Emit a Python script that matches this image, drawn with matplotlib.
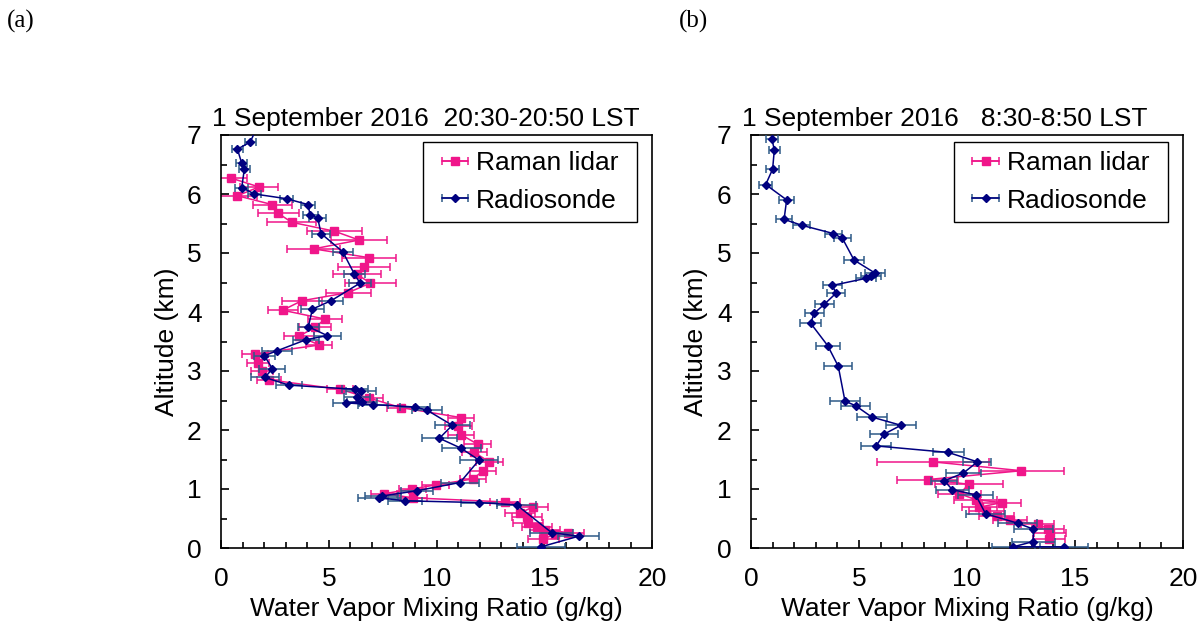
import matplotlib
matplotlib.use("Agg")
import matplotlib.pyplot as plt
from matplotlib.ticker import MultipleLocator
from matplotlib.patches import Rectangle
import numpy as np

plt.rcParams['font.family'] = ['Liberation Sans', 'DejaVu Sans']

# ---------------- Panel (a): 20:30-20:50 LST ----------------
a_sonde_alt = [7.15, 6.88, 6.76, 6.52, 6.42, 6.11, 6.00, 5.92, 5.82, 5.64, 5.60, 5.33, 5.02,
               4.64, 4.49, 4.19, 4.05, 3.75, 3.60, 3.53, 3.34, 3.26, 3.04, 2.89, 2.76,
               2.69, 2.66, 2.56, 2.48, 2.46, 2.43, 2.39, 2.34, 2.08, 1.86, 1.69, 1.49,
               1.11, 0.97, 0.88, 0.85, 0.80, 0.77, 0.73, 0.26, 0.20, 0.02]
a_sonde_wv = [1.70, 1.35, 0.76, 0.96, 1.08, 0.96, 1.55, 3.05, 4.04, 4.13, 4.48, 4.64, 5.65,
              6.19, 6.45, 5.10, 4.24, 4.05, 4.93, 3.94, 2.58, 2.01, 2.38, 2.04, 3.16,
              6.22, 6.50, 6.30, 6.53, 5.80, 7.04, 9.00, 9.54, 10.73, 10.13, 11.14, 11.97,
              11.09, 9.08, 7.45, 7.35, 8.54, 11.97, 13.72, 15.34, 16.59, 14.85]
a_sonde_err = [0.30, 0.25, 0.25, 0.25, 0.25, 0.30, 0.30, 0.30, 0.33, 0.35, 0.40, 0.43, 0.46,
               0.50, 0.50, 0.55, 0.55, 0.50, 0.62, 0.60, 0.70, 0.50, 0.60, 0.65, 0.60,
               0.60, 0.70, 0.60, 0.70, 0.60, 0.70, 0.70, 0.70, 0.80, 0.80, 0.90, 0.90,
               0.90, 0.75, 0.75, 1.00, 0.80, 0.85, 0.90, 1.00, 0.95, 1.10]

a_lidar_alt = [6.27, 6.12, 5.97, 5.82, 5.67, 5.52, 5.37, 5.22, 5.07, 4.92, 4.77, 4.64,
               4.49, 4.33, 4.19, 4.03, 3.88, 3.74, 3.59, 3.44, 3.29, 3.14, 3.00, 2.85,
               2.69, 2.54, 2.38, 2.21, 2.06, 1.92, 1.76, 1.62, 1.46, 1.31, 1.17, 1.07,
               1.00, 0.92, 0.85, 0.78, 0.70, 0.59, 0.53, 0.42, 0.36, 0.31, 0.26, 0.24, 0.15]
a_lidar_wv = [0.46, 1.76, 0.76, 2.38, 2.66, 3.28, 5.26, 6.40, 4.30, 6.88, 6.64, 6.30,
              6.93, 5.91, 3.74, 2.86, 4.83, 4.36, 3.62, 4.56, 1.58, 1.72, 1.89, 2.24,
              5.52, 6.88, 8.34, 11.14, 11.01, 11.14, 11.90, 11.76, 12.44, 12.17, 11.68, 9.96,
              8.88, 7.56, 8.92, 13.18, 14.49, 13.87, 14.19, 14.26, 14.65, 15.03, 16.12, 15.50, 14.96]
a_lidar_err = [0.73, 0.87, 0.93, 0.89, 0.94, 1.14, 1.29, 1.31, 1.24, 1.26, 1.22, 1.10,
               1.18, 1.03, 0.93, 0.70, 0.80, 0.73, 0.70, 0.60, 0.60, 0.50, 0.50, 0.55,
               0.60, 0.62, 0.62, 0.62, 0.62, 0.60, 0.62, 0.60, 0.62, 0.60, 0.60, 0.62,
               0.62, 0.62, 0.62, 0.70, 0.70, 0.70, 0.70, 0.70, 0.70, 0.70, 0.70, 0.70, 0.70]

# ---------------- Panel (b): 8:30-8:50 LST ----------------
b_sonde_alt = [6.94, 6.75, 6.42, 6.16, 5.90, 5.57, 5.47, 5.33, 5.25, 4.88, 4.66, 4.61, 4.57,
               4.45, 4.32, 4.13, 3.98, 3.81, 3.43, 3.08, 2.49, 2.41, 2.22, 2.08, 1.93, 1.73,
               1.62, 1.46, 1.27, 1.14, 0.99, 0.90, 0.58, 0.42, 0.32, 0.11, 0.02, 0.02]
b_sonde_wv = [0.96, 1.08, 1.00, 0.68, 1.65, 1.53, 2.35, 3.81, 4.23, 4.77, 5.74, 5.55, 5.32,
              3.76, 3.94, 3.39, 2.93, 2.76, 3.55, 4.04, 4.35, 4.85, 5.59, 6.94, 6.16, 5.79,
              9.13, 10.48, 9.83, 8.95, 9.32, 10.40, 10.86, 12.35, 13.07, 13.07, 12.14, 14.49]
b_sonde_err = [0.27, 0.27, 0.30, 0.30, 0.35, 0.35, 0.40, 0.40, 0.40, 0.45, 0.45, 0.45, 0.45,
               0.45, 0.40, 0.45, 0.45, 0.50, 0.56, 0.64, 0.70, 0.68, 0.70, 0.70, 0.65, 0.70,
               0.72, 0.65, 0.80, 0.60, 0.75, 0.80, 0.90, 0.90, 0.90, 1.00, 1.00, 1.10]

b_lidar_alt = [1.46, 1.31, 1.16, 1.08, 0.92, 0.82, 0.77, 0.69, 0.63, 0.54, 0.47, 0.40, 0.33, 0.25, 0.16]
b_lidar_wv = [8.41, 12.52, 8.18, 10.09, 9.65, 10.40, 11.60, 10.57, 10.90, 11.37, 11.99, 13.27, 13.76, 13.84, 13.80]
b_lidar_err = [2.60, 1.97, 1.40, 1.58, 1.00, 1.00, 0.90, 0.80, 0.80, 0.80, 0.80, 0.75, 0.75, 0.75, 0.75]

titles = ["1 September 2016  20:30-20:50 LST", "1 September 2016   8:30-8:50 LST"]
panel_labels = ["(a)", "(b)"]
x_label = "Water Vapor Mixing Ratio (g/kg)"
y_label = "Altitude (km)"
legend_labels = ["Raman lidar", "Radiosonde"]

PINK = '#F0168A'
NAVY = '#000080'
SONDE_ERR = '#2E5A88'
FS = 19

fig = plt.figure(figsize=(12.02, 6.25), dpi=100)
axes_pos = [[0.1839, 0.1232, 0.3586, 0.6608], [0.6248, 0.1232, 0.3594, 0.6608]]
data = [
    (a_lidar_wv, a_lidar_alt, a_lidar_err, a_sonde_wv, a_sonde_alt, a_sonde_err),
    (b_lidar_wv, b_lidar_alt, b_lidar_err, b_sonde_wv, b_sonde_alt, b_sonde_err),
]

for i, (lx, ly, le, sx, sy, se) in enumerate(data):
    ax = fig.add_axes(axes_pos[i])
    ax.errorbar(lx, ly, xerr=le, color=PINK, ecolor=PINK, marker='s', markersize=6,
                linewidth=1.1, elinewidth=1.1, capsize=3, capthick=1.1,
                label=legend_labels[0], zorder=2)
    ax.errorbar(sx, sy, xerr=se, color=NAVY, ecolor=SONDE_ERR, marker='D', markersize=4.5,
                linewidth=1.1, elinewidth=1.1, capsize=3, capthick=1.1,
                label=legend_labels[1], zorder=3)
    ax.set_xlim(0, 20)
    ax.set_ylim(0, 7)
    ax.xaxis.set_major_locator(MultipleLocator(5))
    ax.xaxis.set_minor_locator(MultipleLocator(1))
    ax.yaxis.set_major_locator(MultipleLocator(1))
    ax.yaxis.set_minor_locator(MultipleLocator(0.5))
    ax.tick_params(which='both', direction='in', labelsize=FS, width=1.2)
    ax.tick_params(which='major', length=6)
    ax.tick_params(which='minor', length=4)
    ax.tick_params(axis='x', which='major', pad=14)
    ax.tick_params(axis='y', which='major', pad=14)
    for s in ax.spines.values():
        s.set_linewidth(1.2)
    ax.set_xlabel(x_label, fontsize=FS, labelpad=4)
    ax.set_ylabel(y_label, fontsize=FS, labelpad=6)
    ax.text(-0.02, 1.01, titles[i], transform=ax.transAxes, fontsize=FS,
            ha='left', va='bottom')
    # legend frame (wider horizontal padding than vertical)
    ax.add_patch(Rectangle((0.469, 0.789), 0.496, 0.194, transform=ax.transAxes,
                           facecolor='white', edgecolor='black', linewidth=1.0, zorder=5))
    h, l = ax.get_legend_handles_labels()
    leg = ax.legend(h, l, loc='center', bbox_to_anchor=(0.717, 0.886), fontsize=FS,
                    frameon=False, handlelength=1.0, handletextpad=0.3,
                    borderaxespad=0, borderpad=0, labelspacing=0.5)
    leg.set_zorder(6)
    fig.text(0.006 + i * 0.559, 0.965, panel_labels[i], fontsize=18,
             family='Liberation Serif', ha='left', va='center')

fig.savefig('out.png', dpi=100)
